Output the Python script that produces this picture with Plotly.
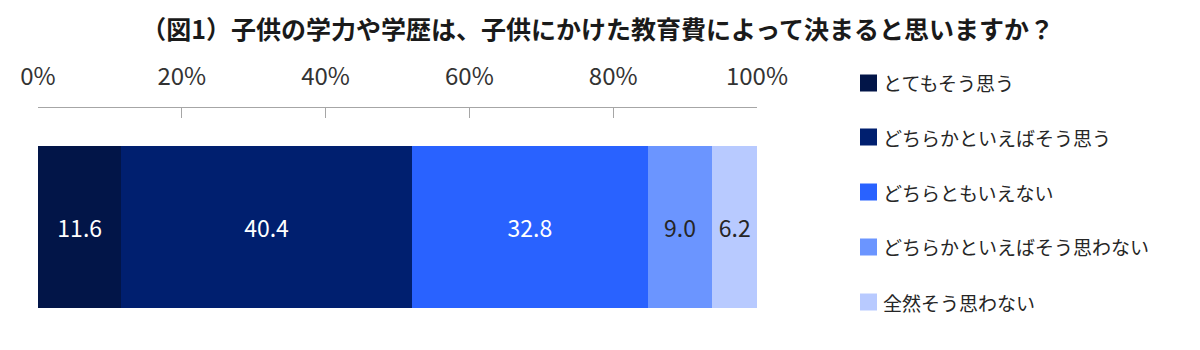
import plotly.graph_objects as go

categories = ["とてもそう思う", "どちらかといえばそう思う", "どちらともいえない", "どちらかといえばそう思わない", "全然そう思わない"]
values = [11.6, 40.4, 32.8, 9.0, 6.2]
colors = ["#021548", "#001F6F", "#2962FF", "#6B95FF", "#B8CAFF"]
text_colors = ["#FFFFFF", "#FFFFFF", "#FFFFFF", "#262626", "#262626"]
tick_vals = [0, 20, 40, 60, 80, 100]
tick_text = ["0%", "20%", "40%", "60%", "80%", "100%"]
title = "（図1）子供の学力や学歴は、子供にかけた教育費によって決まると思いますか？"

FONT = "Noto Sans CJK JP"
W, H = 1200, 350
ML, MR, MT, MB = 38, 443, 108, 4
PW, PH = W - ML - MR, H - MT - MB

def px_to_paper_x(px):
    return (px - ML) / PW

def px_to_paper_y(py):
    return (H - MB - py) / PH

fig = go.Figure()
for i, (cat, v) in enumerate(zip(categories, values)):
    fig.add_trace(go.Bar(
        y=[0], x=[v], name=cat, orientation="h",
        marker=dict(color=colors[i], line=dict(width=0)),
        width=0.68,
        text=[f"{v:.1f}"], textposition="inside", insidetextanchor="middle",
        textangle=0,
        textfont=dict(color=text_colors[i], size=23, family=FONT),
        showlegend=False,
        hoverinfo="skip",
    ))

# legend drawn as squares + labels
shapes = []
annotations = []
leg_y = [83, 137, 192, 247, 302]
for i, cat in enumerate(categories):
    cy = leg_y[i]
    shapes.append(dict(type="rect", xref="paper", yref="paper",
                       x0=px_to_paper_x(860), x1=px_to_paper_x(877),
                       y0=px_to_paper_y(cy - 8.5), y1=px_to_paper_y(cy + 8.5),
                       fillcolor=colors[i], line=dict(width=0)))
    annotations.append(dict(text=cat, xref="paper", yref="paper",
                            x=px_to_paper_x(881), y=px_to_paper_y(cy),
                            xanchor="left", yanchor="middle", showarrow=False,
                            font=dict(size=19, color="#262626", family=FONT)))

fig.update_layout(
    barmode="stack",
    width=W, height=H,
    margin=dict(l=ML, r=MR, t=MT, b=MB),
    paper_bgcolor="white", plot_bgcolor="white",
    font=dict(family=FONT, color="#262626"),
    title=dict(text=f"<b>{title}</b>", x=0.498, xref="container", xanchor="center",
               y=0.915, yref="container", yanchor="middle",
               font=dict(size=25, color="#1a1a1a", family=FONT)),
    uniformtext=dict(minsize=23, mode="show"),
    shapes=shapes,
    annotations=annotations,
    showlegend=False,
)
fig.update_xaxes(range=[0, 100], side="top", tickvals=tick_vals, ticktext=tick_text,
                 showline=True, linecolor="#A6A6A6", linewidth=1,
                 ticks="inside", ticklen=10, tickcolor="#A6A6A6",
                 showgrid=False, zeroline=False,
                 tickfont=dict(size=24, color="#333333", family=FONT),
                 ticklabelstandoff=12, fixedrange=True)
fig.update_yaxes(range=[-0.5, 0.5], visible=False, fixedrange=True)

fig.write_html("out.html")
